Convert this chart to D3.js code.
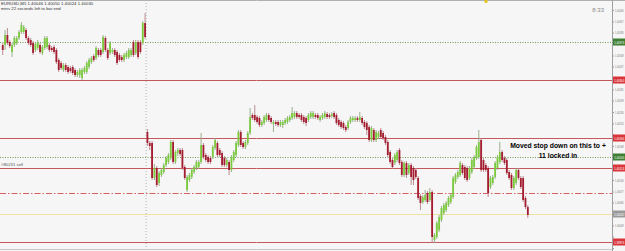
<!DOCTYPE html>
<html>
<head>
<meta charset="utf-8">
<script src="https://cdn.jsdelivr.net/npm/d3@7"></script>
<style>
body { margin: 0; background: #f6f6f6; }
svg { display: block; }
</style>
</head>
<body>
<svg id="chart" width="625" height="251"></svg>
<script>
const width = 625;
const height = 251;
const axisX = 612;

// M5 bars before the session break, [open, high, low, close]
const barsBefore = [
  [1.40370,1.40374,1.40350,1.40360],[1.40370,1.40400,1.40360,1.40390],[1.40390,1.40404,1.40370,1.40374],
  [1.40376,1.40380,1.40364,1.40368],[1.40356,1.40374,1.40346,1.40370],[1.40370,1.40388,1.40366,1.40384],
  [1.40374,1.40388,1.40370,1.40384],[1.40384,1.40400,1.40380,1.40396],[1.40396,1.40416,1.40392,1.40410],
  [1.40396,1.40410,1.40392,1.40406],[1.40400,1.40404,1.40380,1.40384],[1.40384,1.40388,1.40370,1.40374],
  [1.40380,1.40384,1.40366,1.40370],[1.40374,1.40378,1.40350,1.40354],[1.40360,1.40376,1.40356,1.40372],
  [1.40364,1.40380,1.40360,1.40376],[1.40370,1.40374,1.40352,1.40356],[1.40354,1.40370,1.40350,1.40366],
  [1.40364,1.40388,1.40360,1.40384],[1.40366,1.40388,1.40362,1.40384],[1.40370,1.40374,1.40356,1.40360],
  [1.40364,1.40368,1.40356,1.40360],[1.40366,1.40370,1.40352,1.40356],[1.40360,1.40364,1.40332,1.40336],
  [1.40340,1.40344,1.40316,1.40320],[1.40334,1.40338,1.40320,1.40324],[1.40320,1.40334,1.40316,1.40330],
  [1.40330,1.40334,1.40316,1.40320],[1.40326,1.40330,1.40312,1.40316],[1.40324,1.40328,1.40314,1.40318],
  [1.40326,1.40330,1.40310,1.40314],[1.40320,1.40324,1.40306,1.40310],[1.40310,1.40320,1.40306,1.40316],
  [1.40310,1.40324,1.40304,1.40320],[1.40304,1.40324,1.40300,1.40320],[1.40316,1.40328,1.40312,1.40324],
  [1.40316,1.40338,1.40312,1.40334],[1.40326,1.40344,1.40322,1.40340],[1.40336,1.40348,1.40332,1.40344],
  [1.40348,1.40352,1.40336,1.40340],[1.40344,1.40368,1.40340,1.40364],[1.40360,1.40364,1.40346,1.40350],
  [1.40360,1.40364,1.40346,1.40350],[1.40356,1.40390,1.40352,1.40386],[1.40384,1.40388,1.40356,1.40360],
  [1.40360,1.40364,1.40340,1.40344],[1.40354,1.40378,1.40350,1.40374],[1.40356,1.40364,1.40352,1.40360],
  [1.40360,1.40364,1.40346,1.40350],[1.40356,1.40360,1.40330,1.40334],[1.40350,1.40354,1.40336,1.40340],
  [1.40346,1.40350,1.40336,1.40340],[1.40340,1.40354,1.40336,1.40350],[1.40346,1.40358,1.40342,1.40354],
  [1.40346,1.40364,1.40342,1.40360],[1.40350,1.40364,1.40346,1.40360],[1.40376,1.40380,1.40346,1.40350],
  [1.40354,1.40380,1.40350,1.40376],[1.40376,1.40380,1.40342,1.40346],[1.40376,1.40380,1.40352,1.40356],
  [1.40374,1.40418,1.40370,1.40414],[1.40414,1.40434,1.40382,1.40386]
];

// M5 bars after the break
const barsAfter = [
  [1.40196,1.40202,1.40168,1.40174],[1.40174,1.40178,1.40160,1.40168],[1.40174,1.40178,1.40100,1.40104],
  [1.40104,1.40132,1.40100,1.40124],[1.40124,1.40128,1.40086,1.40090],[1.40094,1.40118,1.40088,1.40114],
  [1.40110,1.40124,1.40106,1.40120],[1.40116,1.40134,1.40112,1.40130],[1.40130,1.40148,1.40126,1.40144],
  [1.40136,1.40154,1.40132,1.40150],[1.40144,1.40180,1.40140,1.40176],[1.40176,1.40180,1.40132,1.40136],
  [1.40136,1.40160,1.40132,1.40156],[1.40154,1.40164,1.40148,1.40160],[1.40160,1.40164,1.40148,1.40152],
  [1.40160,1.40164,1.40120,1.40124],[1.40126,1.40130,1.40100,1.40104],[1.40080,1.40110,1.40076,1.40106],
  [1.40100,1.40114,1.40096,1.40110],[1.40106,1.40124,1.40102,1.40120],[1.40116,1.40130,1.40112,1.40126],
  [1.40124,1.40140,1.40120,1.40136],[1.40126,1.40140,1.40122,1.40136],[1.40136,1.40194,1.40132,1.40170],
  [1.40170,1.40174,1.40142,1.40146],[1.40150,1.40154,1.40136,1.40140],[1.40146,1.40150,1.40132,1.40136],
  [1.40144,1.40148,1.40132,1.40136],[1.40146,1.40170,1.40142,1.40166],[1.40164,1.40184,1.40160,1.40180],
  [1.40174,1.40178,1.40146,1.40150],[1.40160,1.40164,1.40146,1.40150],[1.40154,1.40158,1.40126,1.40130],
  [1.40144,1.40148,1.40126,1.40130],[1.40130,1.40144,1.40126,1.40140],[1.40136,1.40140,1.40110,1.40120],
  [1.40120,1.40150,1.40116,1.40146],[1.40140,1.40160,1.40136,1.40156],[1.40150,1.40178,1.40146,1.40174],
  [1.40170,1.40200,1.40166,1.40196],[1.40196,1.40200,1.40166,1.40170],[1.40174,1.40178,1.40162,1.40166],
  [1.40166,1.40180,1.40162,1.40176],[1.40174,1.40198,1.40170,1.40194],[1.40194,1.40244,1.40190,1.40226],
  [1.40230,1.40234,1.40220,1.40224],[1.40230,1.40250,1.40216,1.40220],[1.40226,1.40230,1.40212,1.40216],
  [1.40224,1.40228,1.40206,1.40210],[1.40210,1.40220,1.40206,1.40216],[1.40214,1.40230,1.40210,1.40226],
  [1.40220,1.40234,1.40216,1.40230],[1.40230,1.40234,1.40216,1.40220],[1.40224,1.40228,1.40212,1.40216],
  [1.40212,1.40220,1.40196,1.40216],[1.40216,1.40220,1.40208,1.40212],[1.40216,1.40220,1.40206,1.40210],
  [1.40210,1.40220,1.40206,1.40216],[1.40210,1.40220,1.40204,1.40216],[1.40214,1.40224,1.40210,1.40220],
  [1.40216,1.40228,1.40212,1.40224],[1.40220,1.40230,1.40216,1.40226],[1.40224,1.40246,1.40220,1.40234],
  [1.40226,1.40238,1.40222,1.40234],[1.40234,1.40238,1.40222,1.40226],[1.40230,1.40234,1.40222,1.40226],
  [1.40230,1.40234,1.40216,1.40220],[1.40226,1.40230,1.40212,1.40216],[1.40224,1.40228,1.40208,1.40214],
  [1.40220,1.40234,1.40216,1.40230],[1.40226,1.40238,1.40222,1.40234],[1.40226,1.40238,1.40222,1.40234],
  [1.40230,1.40234,1.40222,1.40226],[1.40230,1.40234,1.40220,1.40224],[1.40220,1.40230,1.40216,1.40226],
  [1.40224,1.40234,1.40220,1.40230],[1.40226,1.40238,1.40222,1.40234],[1.40232,1.40236,1.40222,1.40226],
  [1.40230,1.40234,1.40222,1.40226],[1.40228,1.40236,1.40224,1.40232],[1.40234,1.40238,1.40222,1.40226],
  [1.40230,1.40234,1.40210,1.40214],[1.40220,1.40224,1.40206,1.40210],[1.40216,1.40220,1.40202,1.40206],
  [1.40214,1.40218,1.40200,1.40204],[1.40206,1.40210,1.40196,1.40200],[1.40204,1.40220,1.40200,1.40216],
  [1.40216,1.40228,1.40212,1.40224],[1.40220,1.40228,1.40216,1.40224],[1.40220,1.40228,1.40216,1.40224],
  [1.40224,1.40228,1.40216,1.40220],[1.40220,1.40236,1.40216,1.40226],[1.40224,1.40228,1.40210,1.40214],
  [1.40216,1.40220,1.40202,1.40206],[1.40214,1.40218,1.40190,1.40200],[1.40206,1.40210,1.40176,1.40180],
  [1.40180,1.40208,1.40176,1.40204],[1.40200,1.40204,1.40176,1.40180],[1.40180,1.40200,1.40176,1.40196],
  [1.40186,1.40198,1.40182,1.40194],[1.40200,1.40204,1.40182,1.40186],[1.40194,1.40198,1.40180,1.40184],
  [1.40186,1.40190,1.40170,1.40174],[1.40176,1.40180,1.40146,1.40150],[1.40156,1.40160,1.40132,1.40136],
  [1.40140,1.40144,1.40122,1.40126],[1.40134,1.40154,1.40130,1.40150],[1.40140,1.40160,1.40136,1.40156],
  [1.40160,1.40164,1.40130,1.40134],[1.40136,1.40140,1.40106,1.40110],[1.40110,1.40138,1.40106,1.40134],
  [1.40134,1.40138,1.40104,1.40110],[1.40114,1.40134,1.40110,1.40130],[1.40130,1.40134,1.40090,1.40106],
  [1.40124,1.40128,1.40090,1.40100],[1.40120,1.40124,1.40102,1.40106],[1.40104,1.40108,1.40060,1.40064],
  [1.40068,1.40072,1.40040,1.40054],[1.40056,1.40070,1.40052,1.40066],[1.40060,1.40080,1.40056,1.40070],
  [1.40074,1.40078,1.40052,1.40056],[1.40060,1.40084,1.40056,1.40076],[1.40076,1.40080,1.39974,1.39986],
  [1.39980,1.39994,1.39974,1.39990],[1.39986,1.40018,1.39982,1.40014],[1.40000,1.40030,1.39996,1.40026],
  [1.40020,1.40048,1.40016,1.40044],[1.40034,1.40054,1.40030,1.40050],[1.40040,1.40058,1.40036,1.40054],
  [1.40050,1.40068,1.40046,1.40064],[1.40056,1.40074,1.40052,1.40070],[1.40066,1.40108,1.40062,1.40104],
  [1.40096,1.40114,1.40092,1.40110],[1.40106,1.40120,1.40102,1.40116],[1.40110,1.40138,1.40106,1.40134],
  [1.40130,1.40134,1.40110,1.40114],[1.40126,1.40130,1.40100,1.40104],[1.40124,1.40128,1.40096,1.40100],
  [1.40104,1.40128,1.40100,1.40124],[1.40116,1.40144,1.40112,1.40140],[1.40126,1.40150,1.40122,1.40146],
  [1.40144,1.40170,1.40140,1.40166],[1.40146,1.40200,1.40142,1.40176],[1.40180,1.40184,1.40116,1.40120],
  [1.40140,1.40144,1.40116,1.40120],[1.40130,1.40134,1.40116,1.40120],[1.40124,1.40128,1.40066,1.40074],
  [1.40086,1.40108,1.40082,1.40104],[1.40094,1.40110,1.40090,1.40106],[1.40106,1.40138,1.40102,1.40134],
  [1.40124,1.40150,1.40120,1.40146],[1.40136,1.40176,1.40132,1.40156],[1.40156,1.40160,1.40136,1.40140],
  [1.40144,1.40148,1.40130,1.40134],[1.40140,1.40144,1.40110,1.40114],[1.40116,1.40120,1.40100,1.40104],
  [1.40110,1.40114,1.40080,1.40084],[1.40084,1.40108,1.40080,1.40104],[1.40094,1.40124,1.40090,1.40120],
  [1.40120,1.40124,1.40100,1.40104],[1.40104,1.40108,1.40082,1.40086],[1.40104,1.40108,1.40056,1.40060],
  [1.40064,1.40068,1.40042,1.40046],[1.40046,1.40050,1.40024,1.40030]
];

const priceTicks = [1.40440,1.40417,1.40395,1.40372,1.40349,1.40327,1.40304,1.40281,1.40259,1.40236,1.40213,
  1.40191,1.40168,1.40145,1.40123,1.40100,1.40077,1.40055,1.40032,1.40009,1.39987,1.39964];

const redLevels = [1.40300, 1.40184, 1.40124, 1.39976];
const greenLevels = [1.40376, 1.40145];
const stopLevel = 1.40074;
const bidLevel = 1.40032;

const headerLines = ["EURUSD,M5  1.40046 1.40050 1.40024 1.40030", "mins 22 seconds left to bar end"];
const orderLabel = "#80231 sell";
const clockText = "8:33";
const noteLines = ["Moved stop down on this to +", "11 locked in"];

const bars = barsBefore.concat(barsAfter);
const step = 2.336;
const x0 = 1.3;

const x = d3.scaleBand()
  .domain(d3.range(bars.length))
  .range([x0, x0 + bars.length * step])
  .padding(0.22);

const y = d3.scaleLinear()
  .domain([1.39958, 1.40460])
  .range([height, 0]);

const svg = d3.select('#chart');
const fmt = d3.format('.5f');
const font = 'Liberation Sans, Arial, sans-serif';

svg.append('rect')
  .attr('width', width)
  .attr('height', height)
  .attr('fill', '#f6f6f6');

// session separator
const sepX = x0 + barsBefore.length * step;
svg.append('line')
  .attr('x1', sepX).attr('x2', sepX)
  .attr('y1', 0).attr('y2', height)
  .attr('stroke', '#b4b4b4')
  .attr('stroke-dasharray', '1,2');

const py = v => Math.round(y(v)) + 0.5;

// level lines
svg.selectAll('.green-level')
  .data(greenLevels)
  .enter().append('line')
  .attr('class', 'green-level')
  .attr('x1', 0).attr('x2', axisX)
  .attr('y1', py).attr('y2', py)
  .attr('stroke', '#6e9a55')
  .attr('stroke-dasharray', '1,1.5');

svg.selectAll('.red-level')
  .data(redLevels)
  .enter().append('line')
  .attr('class', 'red-level')
  .attr('x1', 0).attr('x2', axisX)
  .attr('y1', py).attr('y2', py)
  .attr('stroke', '#c4585c');

svg.append('line')
  .attr('x1', 0).attr('x2', axisX)
  .attr('y1', py(stopLevel)).attr('y2', py(stopLevel))
  .attr('stroke', '#d8605e')
  .attr('stroke-dasharray', '6,2,1.5,2');

svg.append('line')
  .attr('x1', 0).attr('x2', axisX)
  .attr('y1', py(bidLevel)).attr('y2', py(bidLevel))
  .attr('stroke', '#efe2a6');

// candles
const candle = svg.append('g')
  .selectAll('g')
  .data(bars)
  .enter().append('g');

candle.append('line')
  .attr('x1', (d, i) => x(i) + x.bandwidth() / 2)
  .attr('x2', (d, i) => x(i) + x.bandwidth() / 2)
  .attr('y1', d => y(d[1]))
  .attr('y2', d => y(d[2]))
  .attr('stroke', d => d[3] >= d[0] ? '#8fa882' : '#b58088')
  .attr('stroke-width', 0.9);

candle.append('rect')
  .attr('x', (d, i) => x(i))
  .attr('width', x.bandwidth())
  .attr('y', d => y(Math.max(d[0], d[3])))
  .attr('height', d => Math.max(1, y(Math.min(d[0], d[3])) - y(Math.max(d[0], d[3]))))
  .attr('fill', d => d[3] >= d[0] ? '#7ccb3f' : '#a41d30');

// frame
svg.append('line')
  .attr('x1', 0).attr('x2', width)
  .attr('y1', 0.5).attr('y2', 0.5)
  .attr('stroke', '#b0b0b0');
svg.append('line')
  .attr('x1', 0).attr('x2', axisX)
  .attr('y1', height - 1.5).attr('y2', height - 1.5)
  .attr('stroke', '#c8c8c8');
svg.append('line')
  .attr('x1', axisX + 0.5).attr('x2', axisX + 0.5)
  .attr('y1', 0).attr('y2', height)
  .attr('stroke', '#a0a0a0');

// price axis, tick labels hidden where a coloured tag sits
const tags = greenLevels.map(v => ({ v, c: '#3f7f33' }))
  .concat(redLevels.map(v => ({ v, c: '#d9343a' })))
  .concat([{ v: bidLevel, c: '#9a9a9a' }]);

const axis = svg.append('g')
  .attr('transform', 'translate(' + (axisX + 0.5) + ',0)')
  .call(d3.axisRight(y).tickValues(priceTicks).tickFormat(fmt).tickSize(1.5).tickPadding(1));
axis.select('.domain').remove();
axis.selectAll('line').attr('stroke', '#999');
axis.selectAll('text')
  .attr('fill', '#777')
  .attr('textLength', 8.6)
  .attr('lengthAdjust', 'spacingAndGlyphs')
  .style('font-family', font)
  .style('font-size', '4.4px');
axis.selectAll('.tick')
  .filter(d => tags.some(t => Math.abs(y(t.v) - y(d)) < 6))
  .select('text').remove();

const tag = svg.selectAll('.tag')
  .data(tags)
  .enter().append('g')
  .attr('class', 'tag')
  .attr('transform', d => 'translate(' + (axisX + 1) + ',' + Math.round(y(d.v)) + ')');
tag.append('rect')
  .attr('x', 0).attr('y', -3.5)
  .attr('width', 13).attr('height', 7)
  .attr('fill', d => d.c);
tag.append('text')
  .attr('x', 1.2).attr('y', 1.6)
  .attr('fill', '#fff')
  .attr('textLength', 10)
  .attr('lengthAdjust', 'spacingAndGlyphs')
  .style('font-family', font)
  .style('font-size', '4.4px')
  .text(d => fmt(d.v));

// texts
svg.selectAll('.hdr')
  .data(headerLines)
  .enter().append('text')
  .attr('class', 'hdr')
  .attr('x', 1)
  .attr('y', (d, i) => 5 + i * 4.5)
  .attr('fill', '#333')
  .style('font-family', font)
  .style('font-size', '4.3px')
  .text(d => d);

svg.append('text')
  .attr('x', 1)
  .attr('y', Math.round(y(redLevels[2])) - 2)
  .attr('fill', '#555')
  .style('font-family', font)
  .style('font-size', '4.3px')
  .text(orderLabel);

svg.append('text')
  .attr('x', 604)
  .attr('y', 12)
  .attr('text-anchor', 'end')
  .attr('fill', '#888')
  .style('font-family', font)
  .style('font-size', '6px')
  .text(clockText);

svg.append('circle')
  .attr('cx', 486).attr('cy', 1.5).attr('r', 1.6)
  .attr('fill', '#e6c618');

svg.append('text')
  .attr('text-anchor', 'middle')
  .style('font-family', font)
  .style('font-weight', 'bold')
  .style('font-size', '6.8px')
  .attr('fill', '#000')
  .selectAll('tspan')
  .data(noteLines)
  .enter().append('tspan')
  .attr('x', 558)
  .attr('y', (d, i) => 148 + i * 9.5)
  .text(d => d);
</script>
</body>
</html>
